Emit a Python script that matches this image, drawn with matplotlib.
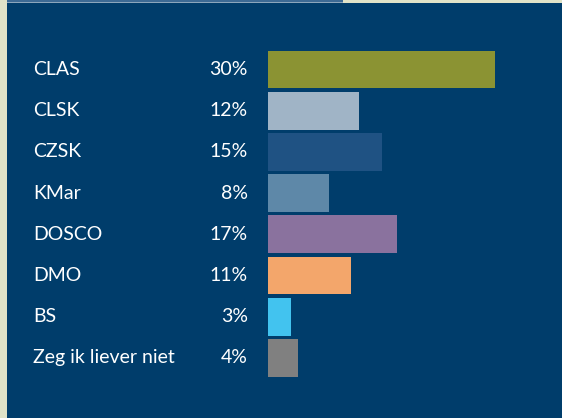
import matplotlib.pyplot as plt
from matplotlib.patches import Rectangle

labels = ['CLAS', 'CLSK', 'CZSK', 'KMar', 'DOSCO', 'DMO', 'BS', 'Zeg ik liever niet']
values = [30, 12, 15, 8, 17, 11, 3, 4]
colors = ['#8b9333', '#a0b4c6', '#1f5283', '#5e88a8', '#8a729e', '#f3a66b', '#42c3ef', '#808080']

W, H = 562, 418
navy = '#003d6b'
cream = '#e0e3c8'

fig = plt.figure(figsize=(W / 100, H / 100), dpi=100)
fig.patch.set_facecolor(cream)

# background panel + thin top line
fig.add_artist(Rectangle((7 / W, 0), 1, (H - 3) / H, transform=fig.transFigure,
                         facecolor=navy, edgecolor='none', zorder=0))
fig.add_artist(Rectangle((7 / W, (H - 3) / H), (343 - 7) / W, 3 / H, transform=fig.transFigure,
                         facecolor='#3d6a94', edgecolor='none', zorder=0))
fig.add_artist(Rectangle((7 / W, (H - 3) / H), (343 - 7) / W, 1 / H, transform=fig.transFigure,
                         facecolor='#8ca6bc', edgecolor='none', zorder=0))

ax = fig.add_axes([268 / W, 0, (W - 268) / W, 1])
ax.set_facecolor('none')
pos = list(range(len(labels)))
ax.barh(pos, values, height=0.92, color=colors)
ax.set_xlim(0, (W - 268) / 7.57)
ax.set_ylim((H - 69.5) / 41.2, -69.5 / 41.2)
ax.axis('off')

for i, (lab, v) in enumerate(zip(labels, values)):
    ax.annotate(lab, xy=(33 / W, i), xycoords=('figure fraction', 'data'),
                color='white', fontsize=14, family='Lato', va='center', ha='left')
    ax.annotate(f'{v}%', xy=(248 / W, i), xycoords=('figure fraction', 'data'),
                color='white', fontsize=14, family='Lato', va='center', ha='right')

fig.savefig('out.png', dpi=100, facecolor=fig.get_facecolor())
